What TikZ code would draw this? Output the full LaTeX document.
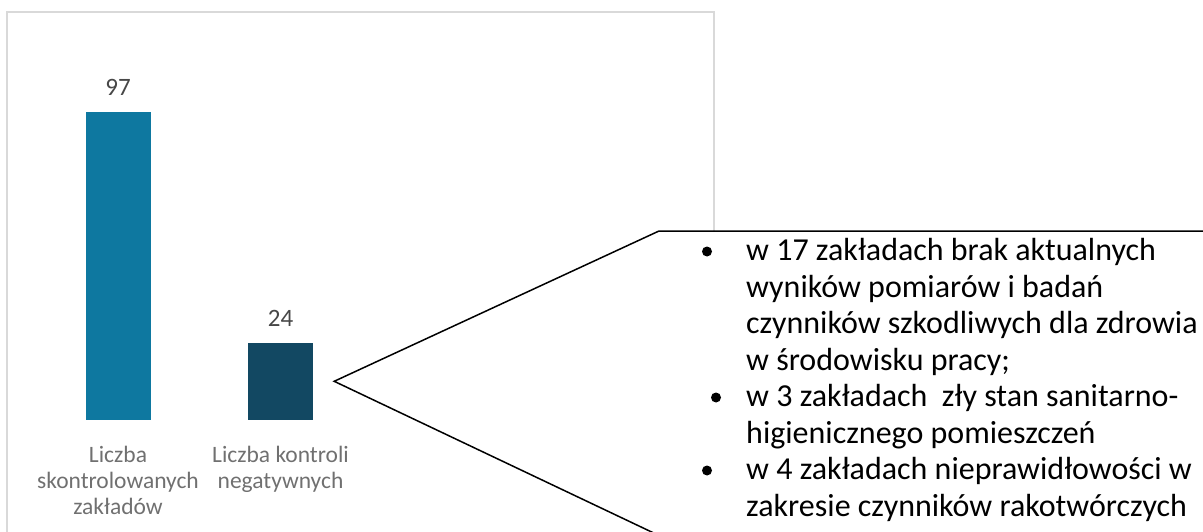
\documentclass[tikz,border=0pt]{standalone}
\usepackage{fontspec}
\setmainfont{Carlito}
\usetikzlibrary{positioning}
\definecolor{barblue}{RGB}{14,120,160}
\definecolor{bardark}{RGB}{18,72,98}
\definecolor{framegray}{RGB}{217,217,217}
\definecolor{labelgray}{RGB}{112,112,112}
\tikzstyle{bar} = [rectangle, minimum width=65, inner sep=0pt, anchor=south]
\tikzstyle{value} = [inner sep=0pt, text=black!72, font=\fontsize{25}{29}\selectfont]
\tikzstyle{category} = [inner sep=0pt, align=center, text=labelgray, font=\fontsize{23.5}{26}\selectfont]
\tikzstyle{item} = [inner sep=0pt, align=left, anchor=base west, font=\fontsize{32}{36.5}\selectfont]
\tikzstyle{dot} = [circle, fill=black, minimum size=10, inner sep=0pt]
\tikzstyle{callout} = [draw=black, fill=white, line width=1.5pt, line join=miter]

\begin{document}
\begin{tikzpicture}[x=1pt, y=-1pt]
    \useasboundingbox (0,0) rectangle (1203,532);
    % chart area
    \draw [framegray, line width=1.6pt] (7,12) rectangle (714,560);
    \node (bar1) [bar, fill=barblue, minimum height=308] at (118,420) {};
    \node (bar2) [bar, fill=bardark, minimum height=77] at (280.5,420) {};
    \node (val1) [value, above=16pt of bar1] {97};
    \node (val2) [value, above=16pt of bar2] {24};
    \node (cat1) [category, below=26pt of bar1, anchor=north] {Liczba\\skontrolowanych\\zakładów};
    \node (cat2) [category, below=26pt of bar2, anchor=north] {Liczba kontroli\\negatywnych};

    % callout
    \coordinate (tip) at ([xshift=21pt]bar2.east);
    \draw [callout] (tip) -- (659,231) -- (1215,231) -- (1215,545) -- (679,545) -- cycle;

    % base anchor sits on the last line
    \node (item1) [item] at (746,370) {w 17 zakładach brak aktualnych\\wyników pomiarów i badań\\czynników szkodliwych dla zdrowia\\w środowisku pracy;};
    \node (item2) [item] at (746,443) {w 3 zakładach\ \ zły stan sanitarno-\\higienicznego pomieszczeń};
    \node (item3) [item] at (746,516) {w 4 zakładach nieprawidłowości w\\zakresie czynników rakotwórczych};
    \node (dot1) [dot] at ([xshift=-39pt,yshift=118.5pt]item1.base west) {};
    \node (dot2) [dot] at ([xshift=-30pt,yshift=45.5pt]item2.base west) {};
    \node (dot3) [dot] at ([xshift=-39pt,yshift=45.5pt]item3.base west) {};
\end{tikzpicture}
\end{document}
